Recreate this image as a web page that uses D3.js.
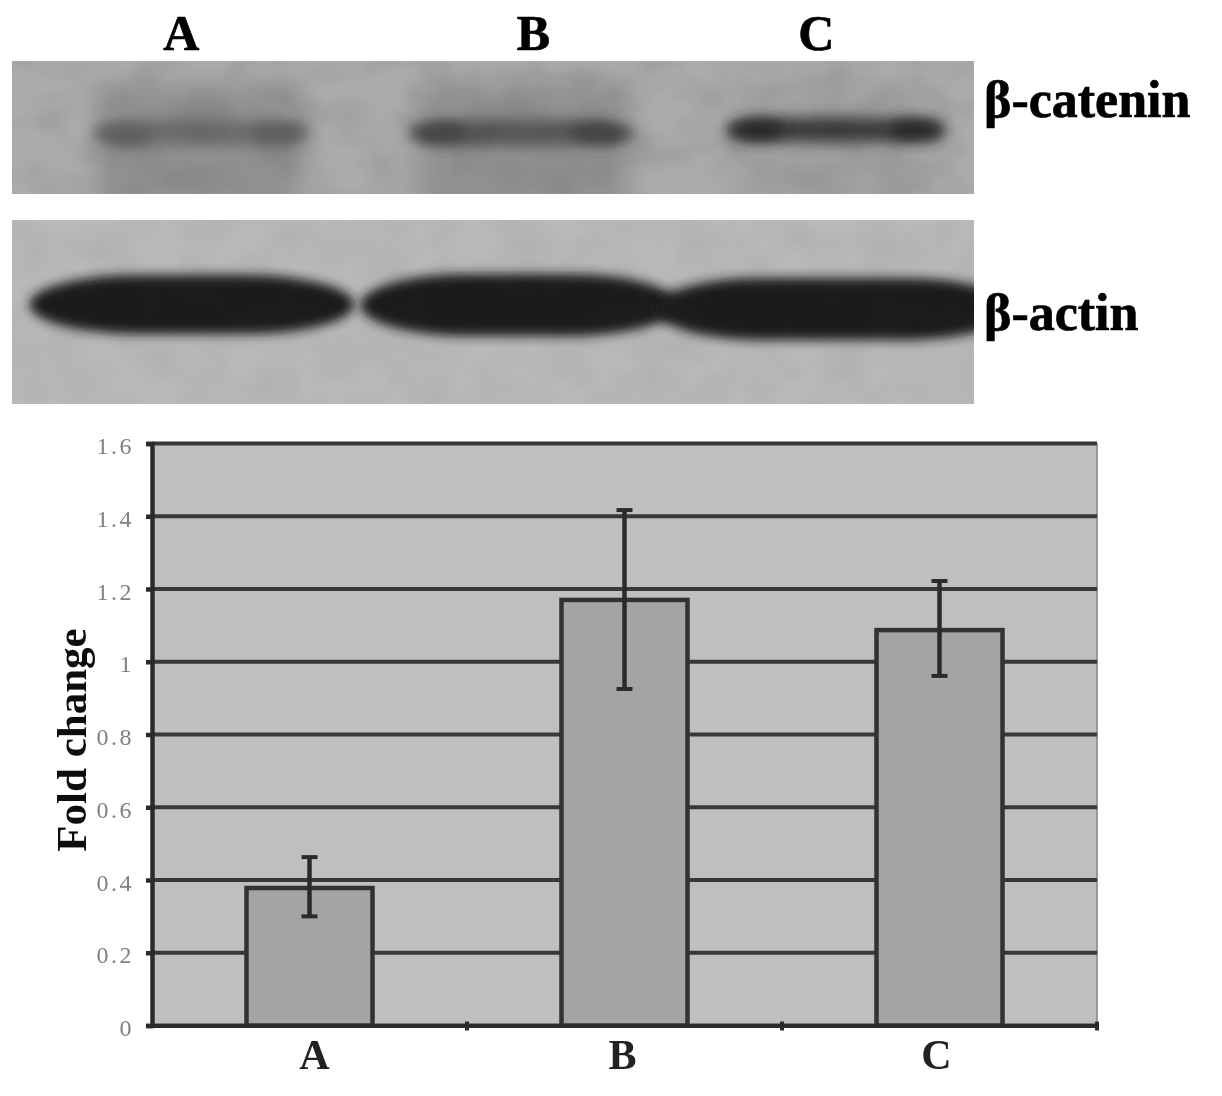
<!doctype html>
<html lang="en">

<head>
  <meta charset="utf-8">
  <script src="https://cdn.jsdelivr.net/npm/d3@7"></script>
  <title>Beta-catenin fold change</title>
  <style>
    html, body { margin: 0; padding: 0; background: #fff; }
    svg { display: block; }
    text { font-family: "Liberation Serif", serif; }
  </style>
</head>

<body>
  <svg id="chart" width="1222" height="1096"></svg>
  <script>
    // bar chart values
    const categories = ["A", "B", "C"];
    const foldChange = [0.378, 1.17, 1.087];
    const errorLow = [0.30, 0.925, 0.961];
    const errorHigh = [0.463, 1.417, 1.222];
    const yTicks = [0, 0.2, 0.4, 0.6, 0.8, 1, 1.2, 1.4, 1.6];

    // blot lanes, as a fraction of the gel width
    const laneLabels = ["A", "B", "C"];
    const laneLabelAt = [0.176, 0.542, 0.836];
    const cateninStart = [0.083, 0.413, 0.74];
    const cateninEnd = [0.31, 0.65, 0.97];
    const cateninSpotA = [0.118, 0.445, 0.775];
    const cateninSpotB = [0.275, 0.61, 0.94];
    const cateninGrey = [108, 86, 62];
    const cateninSpotGrey = [98, 68, 44];
    const actinStart = [0.018, 0.362, 0.668];
    const actinEnd = [0.356, 0.692, 1.04];
    const actinTop = [275, 274, 278];
    const actinBottom = [334, 336, 340];

    const svg = d3.select("#chart");
    const defs = svg.append("defs");

    function blur(id, dev) {
      defs.append("filter").attr("id", id)
          .attr("x", "-30%").attr("y", "-60%").attr("width", "160%").attr("height", "220%")
        .append("feGaussianBlur").attr("stdDeviation", dev);
    }
    blur("soft", 0.75);
    blur("textSoft", 0.5);
    blur("actinBlur", 5.5);
    blur("bandBlur", 7);
    blur("spotBlur", 7);
    blur("haloBlur", 14);

    // mottled film texture
    const grain = defs.append("filter").attr("id", "grain")
        .attr("x", 0).attr("y", 0).attr("width", "100%").attr("height", "100%");
    grain.append("feTurbulence").attr("type", "fractalNoise")
        .attr("baseFrequency", "0.022 0.03").attr("numOctaves", 2).attr("seed", 4);
    grain.append("feColorMatrix").attr("values", "0 0 0 0 0  0 0 0 0 0  0 0 0 0 0  1.2 0 0 0 -0.45");
    grain.append("feGaussianBlur").attr("stdDeviation", 1.5);

    const gelX = d3.scaleLinear().domain([0, 1]).range([12, 974]);
    const grey = v => d3.rgb(v, v, v).toString();

    // lane letters
    svg.append("g").attr("filter", "url(#textSoft)").selectAll("text")
      .data(laneLabels)
      .enter()
      .append("text")
        .attr("x", (d, i) => gelX(laneLabelAt[i]))
        .attr("y", 49.5)
        .attr("text-anchor", "middle")
        .attr("stroke", "#000")
        .attr("stroke-width", 0.7)
        .style("font-size", "50px")
        .style("font-weight", "bold")
        .text(d => d);

    // top blot
    defs.append("clipPath").attr("id", "clipTop")
      .append("rect").attr("x", 12).attr("y", 61).attr("width", 962).attr("height", 133);
    const topBlot = svg.append("g").attr("clip-path", "url(#clipTop)");
    topBlot.append("rect").attr("x", 12).attr("y", 61).attr("width", 962).attr("height", 133).attr("fill", "#ababab");
    // diffuse smear behind the lanes
    topBlot.selectAll(".halo")
      .data(categories)
      .enter()
      .append("rect")
        .attr("x", (d, i) => gelX(cateninStart[i]) + 8)
        .attr("y", 84)
        .attr("width", (d, i) => gelX(cateninEnd[i]) - gelX(cateninStart[i]) - 16)
        .attr("height", 126)
        .attr("fill", (d, i) => i == 2 ? "#a0a0a0" : "#909090")
        .attr("filter", "url(#haloBlur)");
    topBlot.selectAll(".band")
      .data(categories)
      .enter()
      .append("ellipse")
        .attr("cx", (d, i) => (gelX(cateninStart[i]) + gelX(cateninEnd[i])) / 2)
        .attr("cy", (d, i) => i == 2 ? 130 : 133)
        .attr("rx", (d, i) => (gelX(cateninEnd[i]) - gelX(cateninStart[i])) / 2)
        .attr("ry", 13)
        .attr("fill", (d, i) => grey(cateninGrey[i]))
        .attr("filter", "url(#bandBlur)");
    [cateninSpotA, cateninSpotB].forEach(function (spots) {
      topBlot.append("g").selectAll("ellipse")
        .data(spots)
        .enter()
        .append("ellipse")
          .attr("cx", d => gelX(d))
          .attr("cy", (d, i) => i == 2 ? 130 : 133)
          .attr("rx", 28)
          .attr("ry", 11)
          .attr("fill", (d, i) => grey(cateninSpotGrey[i]))
          .attr("filter", "url(#spotBlur)");
    });
    topBlot.append("rect").attr("x", 12).attr("y", 61).attr("width", 962).attr("height", 133)
        .attr("filter", "url(#grain)").attr("opacity", 0.12);

    // bottom blot
    defs.append("clipPath").attr("id", "clipBottom")
      .append("rect").attr("x", 12).attr("y", 220).attr("width", 962).attr("height", 184);
    const bottomBlot = svg.append("g").attr("clip-path", "url(#clipBottom)");
    bottomBlot.append("rect").attr("x", 12).attr("y", 220).attr("width", 962).attr("height", 184).attr("fill", "#b8b8b8");
    bottomBlot.selectAll(".actin")
      .data(categories)
      .enter()
      .append("rect")
        .attr("x", (d, i) => gelX(actinStart[i]))
        .attr("y", (d, i) => actinTop[i])
        .attr("width", (d, i) => gelX(actinEnd[i]) - gelX(actinStart[i]))
        .attr("height", (d, i) => actinBottom[i] - actinTop[i])
        .attr("rx", 110)
        .attr("ry", (d, i) => (actinBottom[i] - actinTop[i]) / 2)
        .attr("fill", "#1e1e1e")
        .attr("filter", "url(#actinBlur)");
    bottomBlot.append("rect").attr("x", 12).attr("y", 220).attr("width", 962).attr("height", 184)
        .attr("filter", "url(#grain)").attr("opacity", 0.06);

    // protein names
    const names = svg.append("g").attr("filter", "url(#textSoft)")
        .attr("stroke", "#000").attr("stroke-width", 0.7);
    names.append("text").attr("x", 984).attr("y", 117)
        .style("font-size", "52px").style("font-weight", "bold").text("β-catenin");
    names.append("text").attr("x", 984).attr("y", 330)
        .style("font-size", "52px").style("font-weight", "bold").text("β-actin");

    // bar chart
    const x = d3.scaleBand().domain(categories).range([152, 1097]).paddingInner(0.6).paddingOuter(0.3);
    const y = d3.scaleLinear().domain([0, 1.6]).range([1025.5, 443.5]);

    const plot = svg.append("g").attr("filter", "url(#soft)");

    plot.append("rect")
        .attr("x", x.range()[0])
        .attr("y", y(1.6))
        .attr("width", x.range()[1] - x.range()[0])
        .attr("height", y(0) - y(1.6))
        .attr("fill", "#bfbfbf");
    plot.append("line")
        .attr("x1", x.range()[1]).attr("x2", x.range()[1])
        .attr("y1", y(1.6)).attr("y2", y(0))
        .attr("stroke", "#989898").attr("stroke-width", 2);

    // gridlines
    plot.append("g").selectAll("line")
      .data(yTicks)
      .enter()
      .append("line")
        .attr("x1", x.range()[0])
        .attr("x2", x.range()[1])
        .attr("y1", d => y(d))
        .attr("y2", d => y(d))
        .attr("stroke", "#383838")
        .attr("stroke-width", 4);

    // bars
    plot.append("g").selectAll("rect")
      .data(categories)
      .enter()
      .append("rect")
        .attr("x", d => x(d))
        .attr("y", (d, i) => y(foldChange[i]))
        .attr("width", x.bandwidth())
        .attr("height", (d, i) => y(0) - y(foldChange[i]))
        .attr("fill", "#a4a4a4")
        .attr("stroke", "#333")
        .attr("stroke-width", 4.5);

    // error bars
    const errors = plot.append("g").selectAll("g")
      .data(categories)
      .enter()
      .append("g")
        .attr("stroke", "#2c2c2c");
    errors.append("line")
        .attr("x1", d => x(d) + x.bandwidth() / 2)
        .attr("x2", d => x(d) + x.bandwidth() / 2)
        .attr("y1", (d, i) => y(errorLow[i]))
        .attr("y2", (d, i) => y(errorHigh[i]))
        .attr("stroke-width", 4.5);
    [errorLow, errorHigh].forEach(function (values) {
      errors.append("line")
          .attr("x1", d => x(d) + x.bandwidth() / 2 - 8)
          .attr("x2", d => x(d) + x.bandwidth() / 2 + 8)
          .attr("y1", (d, i) => y(values[i]))
          .attr("y2", (d, i) => y(values[i]))
          .attr("stroke-width", 4);
    });

    // axes
    const yAxis = plot.append("g")
        .attr("transform", "translate(" + x.range()[0] + ",0)")
        .call(d3.axisLeft(y).tickValues(yTicks).tickSize(6).tickPadding(12).tickFormat(d => String(d)));
    yAxis.selectAll("path, line").attr("stroke", "#2c2c2c").attr("stroke-width", 4.5);
    yAxis.selectAll("text")
        .attr("fill", "#808080")
        .attr("dy", "0.42em")
        .style("font-size", "24px")
        .style("letter-spacing", "2.5px");

    const xAxis = plot.append("g")
        .attr("transform", "translate(0," + y(0) + ")")
        .call(d3.axisBottom(x).tickSize(0).tickPadding(14));
    xAxis.select("path").attr("stroke", "#2c2c2c").attr("stroke-width", 4);
    xAxis.selectAll("text")
        .attr("fill", "#222")
        .attr("dx", (d, i) => [5, -2, -3][i])
        .style("font-size", "42px")
        .style("font-weight", "bold");

    // boundary ticks between the categories
    plot.append("g").selectAll("line")
      .data(categories)
      .enter()
      .append("line")
        .attr("x1", d => x(d) + x.bandwidth() / 2 + x.step() / 2)
        .attr("x2", d => x(d) + x.bandwidth() / 2 + x.step() / 2)
        .attr("y1", y(0) - 4)
        .attr("y2", y(0) + 5)
        .attr("stroke", "#2c2c2c")
        .attr("stroke-width", 4);

    // y axis title
    plot.append("text")
        .attr("transform", "translate(86,740) rotate(-90)")
        .attr("text-anchor", "middle")
        .attr("fill", "#111")
        .style("font-size", "43px")
        .style("font-weight", "bold")
        .text("Fold change");
  </script>
</body>
</html>
